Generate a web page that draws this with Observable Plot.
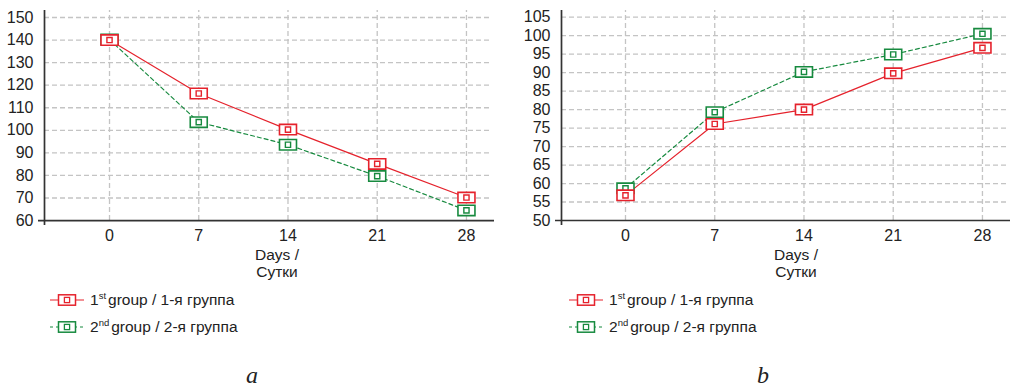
<!DOCTYPE html>
<html>
<head>
<meta charset="utf-8">
<script src="https://cdn.jsdelivr.net/npm/d3@7"></script>
<script src="https://cdn.jsdelivr.net/npm/@observablehq/plot@0.6"></script>
<style>
  html, body { margin: 0; padding: 0; background: #fff; }
  #root { position: relative; width: 1024px; height: 388px; font-family: "Liberation Sans", Arial, sans-serif; color: #222; }
  .panel { position: absolute; top: 0; width: 512px; }
  .xlabel { position: absolute; text-align: center; font-size: 15.5px; line-height: 17px; width: 80px; }
  .legend { position: absolute; font-size: 15.5px; }
  .legend .row { display: flex; align-items: center; height: 27px; }
  .legend sup { font-size: 9.5px; vertical-align: 6px; margin-right: 2px; }
  .letter { position: absolute; font-family: "Liberation Serif", "DejaVu Serif", serif; font-style: italic; font-size: 24px; }
</style>
</head>
<body>
<div id="root"></div>
<script>
// ---- data ----
const days = [0, 7, 14, 21, 28];
const groupLabels = ["1st group / 1-я группа", "2nd group / 2-я группа"];
// panel a
const aGroup1 = [140, 116.3, 100.3, 85.1, 70.2];
const aGroup2 = [140.2, 103.6, 93.6, 79.7, 64.5];
const aYTicks = [60, 70, 80, 90, 100, 110, 120, 130, 140, 150];
// panel b
const bGroup1 = [56.8, 76.1, 80.0, 89.8, 96.7];
const bGroup2 = [58.7, 79.3, 90.2, 94.9, 100.5];
const bYTicks = [50, 55, 60, 65, 70, 75, 80, 85, 90, 95, 100, 105];

const panelLetters = ["a", "b"];
const red = "#e5222c";
const green = "#178a3f";

const wideBox = {draw(ctx) { const w = 8.5, h = 5.2; ctx.moveTo(-w, -h); ctx.lineTo(w, -h); ctx.lineTo(w, h); ctx.lineTo(-w, h); ctx.closePath(); }};
const smallBox = {draw(ctx) { const s = 2.6; ctx.moveTo(-s, -s); ctx.lineTo(s, -s); ctx.lineTo(s, s); ctx.lineTo(-s, s); ctx.closePath(); }};

function makePanel(g1, g2, yTicks, yDomain, xDomain, marginLeft, marginRight) {
  const rows = [];
  days.forEach((d, i) => rows.push({day: d, value: g1[i], group: groupLabels[0]}));
  days.forEach((d, i) => rows.push({day: d, value: g2[i], group: groupLabels[1]}));
  const r1 = rows.filter(r => r.group === groupLabels[0]);
  const r2 = rows.filter(r => r.group === groupLabels[1]);
  const grid = {stroke: "#c4c4c4", strokeWidth: 1.3, strokeDasharray: "5,3", strokeOpacity: 1};
  return Plot.plot({
    width: 512,
    height: 248,
    marginLeft, marginRight,
    marginTop: 10,
    marginBottom: 23,
    x: {domain: xDomain},
    y: {domain: yDomain},
    style: {fontFamily: "'Liberation Sans', Arial, sans-serif", fontSize: "16px", color: "#222", background: "white"},
    marks: [
      Plot.ruleY(yTicks.slice(1), {...grid, insetRight: 4}),
      Plot.ruleX(days, {x: d => d, y1: yTicks[0], y2: yDomain[1], ...grid}),
      Plot.axisY({ticks: yTicks, tickSize: 0, tickPadding: 11, label: null, fontSize: 16}),
      Plot.axisX({ticks: days, tickSize: 0, tickPadding: 4, label: null, fontSize: 16}),
      Plot.ruleY([yTicks[0]], {stroke: "#333", strokeWidth: 1.7, insetLeft: -6}),
      Plot.ruleX([xDomain[0]], {stroke: "#333", strokeWidth: 1.7}),
      Plot.line(r2, {x: "day", y: "value", stroke: green, strokeWidth: 1.2, strokeDasharray: "4,3"}),
      Plot.line(r1, {x: "day", y: "value", stroke: red, strokeWidth: 1.2}),
      Plot.dot(r2, {x: "day", y: "value", symbol: wideBox, r: 5, stroke: green, fill: "white", strokeWidth: 1.6}),
      Plot.dot(r2, {x: "day", y: "value", symbol: smallBox, r: 3, stroke: green, fill: "white", strokeWidth: 1.4}),
      Plot.dot(r1, {x: "day", y: "value", symbol: wideBox, r: 5, stroke: red, fill: "white", strokeWidth: 1.6}),
      Plot.dot(r1, {x: "day", y: "value", symbol: smallBox, r: 3, stroke: red, fill: "white", strokeWidth: 1.4})
    ]
  });
}

function swatch(color, dashed) {
  const dash = dashed ? 'stroke-dasharray="3,3"' : '';
  return `<svg width="34" height="14" style="margin-right:6px">
    <line x1="0" y1="7" x2="34" y2="7" stroke="${color}" stroke-width="1.2" ${dash}/>
    <rect x="8.5" y="1.8" width="17" height="10.4" fill="white" stroke="${color}" stroke-width="1.5"/>
    <rect x="14.4" y="4.4" width="5.2" height="5.2" fill="white" stroke="${color}" stroke-width="1.3"/>
  </svg>`;
}

function legendHTML() {
  const parts = groupLabels.map(l => {
    const m = l.match(/^(\d)(st|nd)(.*)$/);
    return `${m[1]}<sup>${m[2]}</sup>${m[3].trimStart()}`;
  });
  return `<div class="row">${swatch(red, false)}<span>${parts[0]}</span></div>
          <div class="row">${swatch(green, true)}<span>${parts[1]}</span></div>`;
}

const root = document.getElementById("root");
const panels = [
  {g1: aGroup1, g2: aGroup2, ticks: aYTicks, yDomain: [57.8, 153.1], xDomain: [-5.1, 30.2], ml: 44, mr: 18, left: 0, labelX: 277, legendX: 50, letterX: 253},
  {g1: bGroup1, g2: bGroup2, ticks: bYTicks, yDomain: [48.65, 106.8], xDomain: [-5.02, 30.2], ml: 49, mr: 14, left: 512, labelX: 796, legendX: 569, letterX: 764}
];
panels.forEach((p, i) => {
  const div = document.createElement("div");
  div.className = "panel";
  div.style.left = p.left + "px";
  div.appendChild(makePanel(p.g1, p.g2, p.ticks, p.yDomain, p.xDomain, p.ml, p.mr));
  root.appendChild(div);

  const xl = document.createElement("div");
  xl.className = "xlabel";
  xl.style.left = (p.labelX - 40) + "px";
  xl.style.top = "246px";
  xl.innerHTML = "Days /<br>Сутки";
  root.appendChild(xl);

  const lg = document.createElement("div");
  lg.className = "legend";
  lg.style.left = p.legendX + "px";
  lg.style.top = "286px";
  lg.innerHTML = legendHTML();
  root.appendChild(lg);

  const le = document.createElement("div");
  le.className = "letter";
  le.style.left = (p.letterX - 7) + "px";
  le.style.top = "362px";
  le.textContent = panelLetters[i];
  root.appendChild(le);
});
</script>
</body>
</html>
